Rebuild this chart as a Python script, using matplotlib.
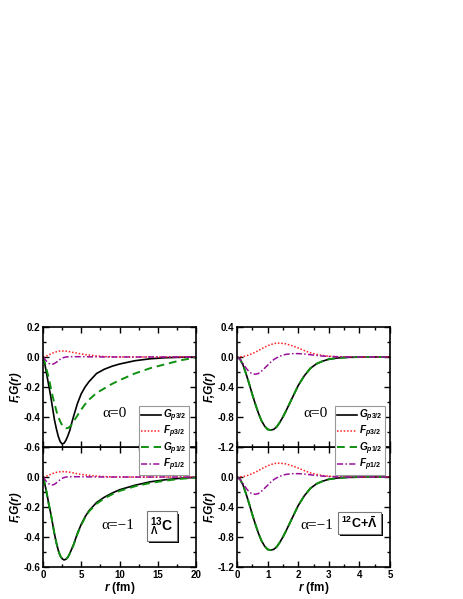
import matplotlib
matplotlib.use('Agg')
import matplotlib.pyplot as plt
import matplotlib.patheffects as pe
from matplotlib.ticker import MultipleLocator

plt.rcParams['font.family'] = ['Liberation Sans', 'DejaVu Sans']
plt.rcParams['font.weight'] = 'bold'
plt.rcParams['axes.unicode_minus'] = False
plt.rcParams['mathtext.fontset'] = 'custom'
plt.rcParams['mathtext.rm'] = 'Liberation Sans:bold'
plt.rcParams['mathtext.it'] = 'Liberation Sans:bold:italic'
plt.rcParams['mathtext.bf'] = 'Liberation Sans:bold'

# ---- 13_Lambda C (left column), r in fm ----
r_left = [0, 0.25, 0.5, 0.75, 1, 1.25, 1.5, 1.75, 2, 2.25, 2.5, 2.75, 3, 3.25, 3.5, 3.75,
          4, 4.5, 5, 5.5, 6, 7, 8, 9, 10, 12, 14, 16, 18, 20]

# alpha = 0
g32_a0 = [0, -0.05, -0.12, -0.19, -0.26, -0.34, -0.42, -0.48, -0.53, -0.565, -0.58, -0.575,
          -0.555, -0.525, -0.49, -0.44, -0.395, -0.31, -0.245, -0.2, -0.165, -0.11, -0.082,
          -0.062, -0.047, -0.025, -0.012, -0.005, -0.002, 0]
f32_a0 = [0, 0.003, 0.008, 0.014, 0.02, 0.026, 0.031, 0.035, 0.038, 0.04, 0.04, 0.04, 0.039,
          0.037, 0.035, 0.032, 0.03, 0.025, 0.02, 0.016, 0.013, 0.007, 0.003, 0.001, 0, 0,
          0, 0, 0, 0]
g12_a0 = [0, -0.04, -0.09, -0.14, -0.2, -0.26, -0.31, -0.36, -0.4, -0.43, -0.455, -0.47,
          -0.475, -0.473, -0.465, -0.45, -0.43, -0.39, -0.35, -0.315, -0.285, -0.24, -0.21,
          -0.18, -0.155, -0.11, -0.075, -0.048, -0.022, -0.003]
f12_a0 = [0, -0.015, -0.03, -0.042, -0.048, -0.048, -0.043, -0.035, -0.025, -0.015, -0.008,
          -0.003, 0, 0.001, 0.002, 0.002, 0.002, 0.002, 0.002, 0.002, 0.001, 0.001, 0, 0, 0,
          0, 0, 0, 0, 0]

# alpha = -1
g32_a1 = [0, -0.05, -0.11, -0.18, -0.24, -0.31, -0.38, -0.44, -0.49, -0.525, -0.545, -0.553,
          -0.548, -0.535, -0.51, -0.48, -0.45, -0.375, -0.315, -0.265, -0.225, -0.17, -0.135,
          -0.108, -0.085, -0.055, -0.032, -0.018, -0.008, -0.002]
f32_a1 = [0, 0.003, 0.007, 0.012, 0.018, 0.023, 0.028, 0.031, 0.034, 0.035, 0.036, 0.036,
          0.035, 0.034, 0.032, 0.029, 0.027, 0.022, 0.018, 0.014, 0.011, 0.006, 0.003, 0.001,
          0, 0, 0, 0, 0, 0]
g12_a1 = [0, -0.05, -0.11, -0.18, -0.24, -0.31, -0.38, -0.44, -0.49, -0.525, -0.545, -0.55,
          -0.547, -0.535, -0.51, -0.48, -0.452, -0.38, -0.32, -0.27, -0.23, -0.178, -0.143,
          -0.116, -0.093, -0.062, -0.04, -0.024, -0.012, -0.004]
f12_a1 = [0, -0.017, -0.033, -0.045, -0.052, -0.053, -0.048, -0.039, -0.028, -0.017, -0.009,
          -0.003, 0, 0.001, 0.002, 0.002, 0.002, 0.002, 0.002, 0.002, 0.001, 0.001, 0, 0, 0,
          0, 0, 0, 0, 0]

# ---- 12C + anti-Lambda (right column) ----
r_right = [0, 0.1, 0.2, 0.3, 0.4, 0.5, 0.6, 0.7, 0.8, 0.9, 1.0, 1.1, 1.2, 1.3, 1.4, 1.5,
           1.6, 1.8, 2.0, 2.2, 2.4, 2.6, 2.8, 3.0, 3.3, 3.6, 4.0, 4.5, 5.0]

g_anti = [0, -0.03, -0.11, -0.23, -0.36, -0.50, -0.63, -0.75, -0.85, -0.92, -0.965, -0.975,
          -0.965, -0.93, -0.87, -0.80, -0.72, -0.55, -0.38, -0.25, -0.15, -0.09, -0.055,
          -0.03, -0.012, -0.005, -0.001, 0, 0]
f32_anti = [0, 0.002, 0.006, 0.015, 0.03, 0.045, 0.065, 0.085, 0.11, 0.13, 0.15, 0.165,
            0.178, 0.185, 0.185, 0.18, 0.175, 0.15, 0.12, 0.085, 0.055, 0.035, 0.02, 0.01,
            0.004, 0.001, 0, 0, 0]
f12_anti = [0, -0.03, -0.09, -0.15, -0.20, -0.225, -0.23, -0.22, -0.19, -0.15, -0.11, -0.07,
            -0.035, -0.01, 0.01, 0.025, 0.035, 0.045, 0.045, 0.04, 0.03, 0.02, 0.012, 0.007,
            0.003, 0.001, 0, 0, 0]

labels = [r'$\mathit{G_{p3/2}}$', r'$\mathit{F_{p3/2}}$', r'$\mathit{G_{p1/2}}$', r'$\mathit{F_{p1/2}}$']
styles = [dict(color='black', ls='-', lw=1.2),
          dict(color='#ff2020', ls=(0, (1, 1.2)), lw=1.1),
          dict(color='#109010', ls=(0, (4, 2.5)), lw=1.4),
          dict(color='#9a109a', ls=(0, (4, 1.5, 1, 1.5)), lw=1.1)]

fig = plt.figure(figsize=(4.63, 5.99), dpi=100)
W = 0.3305
H = 0.2003
ax_tl = fig.add_axes([0.0929, 0.2538, W, H])
ax_bl = fig.add_axes([0.0929, 0.0534, W, H])
ax_tr = fig.add_axes([0.5119, 0.2538, W, H])
ax_br = fig.add_axes([0.5119, 0.0534, W, H])
ax_tl.set_zorder(3)
ax_tr.set_zorder(3)

panels = [
    (ax_tl, r_left, [g32_a0, f32_a0, g12_a0, f12_a0]),
    (ax_bl, r_left, [g32_a1, f32_a1, g12_a1, f12_a1]),
    (ax_tr, r_right, [g_anti, f32_anti, g_anti, f12_anti]),
    (ax_br, r_right, [g_anti, f32_anti, g_anti, f12_anti]),
]
for ax, r, series in panels:
    for ys, lab, st in zip(series, labels, styles):
        ax.plot(r, ys, label=lab, **st)

# axes limits / ticks
for ax in (ax_tl, ax_bl):
    ax.set_xlim(0, 20)
    ax.set_ylim(-0.6, 0.2)
    ax.xaxis.set_major_locator(MultipleLocator(5))
    ax.xaxis.set_minor_locator(MultipleLocator(2.5))
    ax.yaxis.set_minor_locator(MultipleLocator(0.1))
ax_tl.set_yticks([-0.6, -0.4, -0.2, 0.0, 0.2], labels=['-0.6', '-0.4', '-0.2', '0.0', '0.2'])
ax_bl.set_yticks([-0.6, -0.4, -0.2, 0.0, 0.2], labels=['-0.6', '-0.4', '-0.2', '0.0', ''])

for ax in (ax_tr, ax_br):
    ax.set_xlim(0, 5)
    ax.set_ylim(-1.2, 0.4)
    ax.xaxis.set_major_locator(MultipleLocator(1))
    ax.xaxis.set_minor_locator(MultipleLocator(0.5))
    ax.yaxis.set_minor_locator(MultipleLocator(0.2))
ax_tr.set_yticks([-1.2, -0.8, -0.4, 0.0, 0.4], labels=['-1.2', '-0.8', '-0.4', '0.0', '0.4'])
ax_br.set_yticks([-1.2, -0.8, -0.4, 0.0, 0.4], labels=['-1.2', '-0.8', '-0.4', '0.0', ''])

for ax in (ax_tl, ax_bl, ax_tr, ax_br):
    ax.tick_params(which='both', direction='in', top=True, right=True, width=1.0,
                   labelsize=7, pad=2)
    ax.tick_params(which='major', length=4)
    ax.tick_params(which='minor', length=2)
    for s in ax.spines.values():
        s.set_linewidth(1.2)
    ax.set_ylabel('F,G(r)', fontsize=8.5, fontweight='bold', fontstyle='italic', labelpad=1)
    for t in ax.get_yticklabels() + ax.get_xticklabels():
        t.set_fontweight('bold')

for ax in (ax_tl, ax_tr):
    ax.tick_params(labelbottom=False)
for ax in (ax_bl, ax_br):
    ax.set_xlabel(r'$\mathit{r}$ (fm)', fontsize=8.5, fontweight='bold', labelpad=0)

# legends
for ax, x0 in ((ax_tl, 0.625), (ax_tr, 0.64)):
    leg = ax.legend(loc='upper left', bbox_to_anchor=(x0, 0.345), fontsize=7.2,
                    frameon=True, fancybox=False, handlelength=2.0, handletextpad=0.25,
                    labelspacing=0.0, borderpad=0.2, borderaxespad=0)
    leg.get_frame().set_edgecolor('#999999')
    leg.get_frame().set_linewidth(0.8)
    leg.get_frame().set_facecolor('white')
    leg.get_frame().set_alpha(1)
    leg.set_zorder(10)

# alpha annotations
serif = ['Liberation Serif', 'DejaVu Serif']
ax_tl.text(0.464, 0.283, '\u03b1=0', transform=ax_tl.transAxes, ha='center', va='center',
           fontsize=11, family=serif, fontweight='normal')
ax_tr.text(0.516, 0.283, '\u03b1=0', transform=ax_tr.transAxes, ha='center', va='center',
           fontsize=11, family=serif, fontweight='normal')
ax_bl.text(0.487, 0.35, '\u03b1=\u22121', transform=ax_bl.transAxes, ha='center', va='center',
           fontsize=11, family=serif, fontweight='normal')
ax_br.text(0.52, 0.35, '\u03b1=\u22121', transform=ax_br.transAxes, ha='center', va='center',
           fontsize=11, family=serif, fontweight='normal')

# nucleus boxes with shadow
box = dict(boxstyle='square,pad=0.25', facecolor='white', edgecolor='#777777', linewidth=0.8)
shadow = [pe.withSimplePatchShadow(offset=(1.8, -1.8), shadow_rgbFace='black', alpha=1.0)]
t1 = ax_bl.text(0.775, 0.34, r'$^{13}_{\Lambda}$C', transform=ax_bl.transAxes, ha='center',
                va='center', fontsize=10, fontweight='bold', bbox=box)
t2 = ax_br.text(0.80, 0.37, r'$^{12}$C+$\bar{\Lambda}$', transform=ax_br.transAxes,
                ha='center', va='center', fontsize=9, fontweight='bold', bbox=box)
fig.canvas.draw()
for t in (t1, t2):
    t.get_bbox_patch().set_path_effects(shadow)

fig.savefig('out.png', dpi=100)
